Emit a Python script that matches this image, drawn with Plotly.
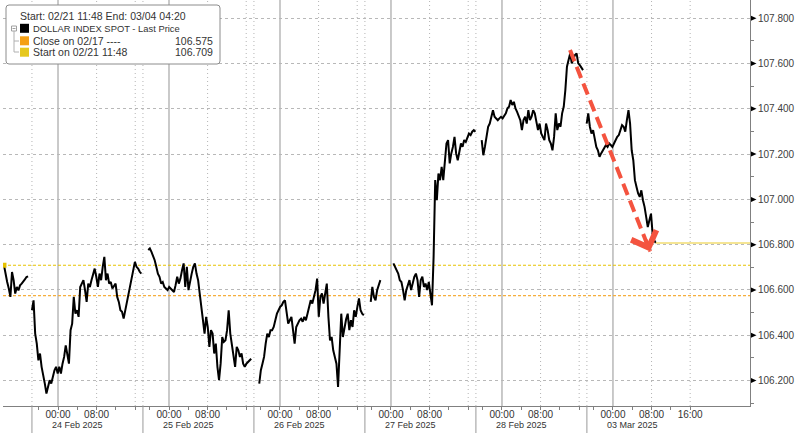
import plotly.graph_objects as go

# x axis = trading hours, 0 = 24 Feb 00:00; each session is 23h (daily break and weekend cut out)
SESSION_HOURS = 23
SESSION_START = -5.4        # session boundary, hours before 00:00
BAR_HOURS = 1 / 3           # 20 minute bars

day_labels = ["24 Feb 2025", "25 Feb 2025", "26 Feb 2025", "27 Feb 2025", "28 Feb 2025", "03 Mar 2025"]

close_0217 = 106.575
start_0221 = 106.709

# DOLLAR INDEX SPOT, 20 min prices per session piece (first bar hour, values)
fri_21 = [106.709, 106.665, 106.635, 106.606, 106.569, 106.679, 106.643, 106.584, 106.613, 106.598,
          106.620, 106.628, 106.635, 106.646, 106.657, 106.660]
mon_24 = [106.510, 106.554, 106.407, 106.363, 106.289, 106.319, 106.260, 106.230, 106.186, 106.142,
          106.171, 106.201, 106.186, 106.215, 106.245, 106.260, 106.230, 106.260, 106.230, 106.274,
          106.304, 106.355, 106.320, 106.274, 106.422, 106.451, 106.569, 106.495, 106.510, 106.481,
          106.613, 106.628, 106.643, 106.599, 106.547, 106.628, 106.613, 106.643, 106.665, 106.694,
          106.658, 106.613, 106.672, 106.643, 106.702, 106.746, 106.643, 106.672, 106.628, 106.635,
          106.606, 106.620, 106.628, 106.569, 106.547, 106.510, 106.503, 106.473, 106.510, 106.540,
          106.584, 106.613, 106.643, 106.687, 106.724, 106.702, 106.694, 106.680, 106.672]
tue_25 = [106.776, 106.783, 106.768, 106.753, 106.731, 106.702, 106.672, 106.658, 106.628, 106.635,
          106.613, 106.606, 106.599, 106.613, 106.606, 106.599, 106.591, 106.621, 106.658, 106.628,
          106.650, 106.687, 106.717, 106.613, 106.702, 106.599, 106.643, 106.672, 106.702, 106.717,
          106.672, 106.643, 106.584, 106.510, 106.466, 106.407, 106.481, 106.436, 106.348, 106.422,
          106.407, 106.319, 106.363, 106.260, 106.201, 106.274, 106.392, 106.370, 106.377, 106.422,
          106.510, 106.407, 106.363, 106.319, 106.260, 106.348, 106.333, 106.304, 106.319, 106.274,
          106.260, 106.274, 106.282, 106.289, 106.296]
wed_26 = [106.186, 106.245, 106.274, 106.304, 106.363, 106.407, 106.392, 106.422, 106.422, 106.436,
          106.466, 106.495, 106.510, 106.525, 106.532, 106.547, 106.554, 106.495, 106.451, 106.466,
          106.481, 106.422, 106.363, 106.436, 106.451, 106.466, 106.473, 106.459, 106.481, 106.466,
          106.495, 106.525, 106.554, 106.540, 106.569, 106.599, 106.650, 106.481, 106.569, 106.584,
          106.540, 106.591, 106.628, 106.481, 106.377, 106.392, 106.333, 106.304, 106.274, 106.171,
          106.333, 106.495, 106.392, 106.436, 106.470, 106.495, 106.422, 106.466, 106.436, 106.510,
          106.481, 106.525, 106.562, 106.510, 106.495, 106.488]
thu_27a = [106.547, 106.613, 106.569, 106.554, 106.599, 106.621, 106.643]
thu_27b = [106.717, 106.702, 106.687, 106.672, 106.643, 106.635, 106.599, 106.554, 106.599, 106.628,
           106.643, 106.599, 106.628, 106.658, 106.672, 106.643, 106.569, 106.643, 106.658, 106.613,
           106.628, 106.599, 106.635, 106.584, 106.532, 106.746, 107.085, 106.996, 107.114, 107.085,
           107.144, 107.085, 107.188, 107.247, 107.262, 107.159, 107.203, 107.232, 107.276, 107.203,
           107.173, 107.203, 107.247, 107.232, 107.262, 107.254, 107.276, 107.291, 107.284, 107.299,
           107.306, 107.299]
fri_28 = [107.262, 107.195, 107.232, 107.276, 107.321, 107.335, 107.365, 107.394, 107.365, 107.358,
          107.350, 107.358, 107.365, 107.358, 107.372, 107.380, 107.402, 107.409, 107.439, 107.417,
          107.431, 107.402, 107.387, 107.365, 107.350, 107.306, 107.350, 107.365, 107.335, 107.394,
          107.350, 107.365, 107.394, 107.380, 107.335, 107.306, 107.335, 107.291, 107.276, 107.262,
          107.335, 107.306, 107.262, 107.247, 107.217, 107.276, 107.380, 107.306, 107.335, 107.321,
          107.380, 107.409, 107.483, 107.586, 107.616, 107.645, 107.601, 107.616, 107.638, 107.645,
          107.601, 107.593, 107.579, 107.571]
mon_03 = [107.335, 107.380, 107.321, 107.291, 107.306, 107.262, 107.232, 107.217, 107.188, 107.203,
          107.217, 107.232, 107.240, 107.232, 107.247, 107.240, 107.232, 107.247, 107.262, 107.276,
          107.284, 107.306, 107.328, 107.321, 107.299, 107.350, 107.394, 107.335, 107.217, 107.173,
          107.085, 107.055, 107.026, 107.011, 107.040, 106.996, 106.967, 106.923, 106.878, 106.908,
          106.937, 106.849, 106.819, 106.807]

segments = [(-11.2, fri_21), (-5.4, mon_24), (18.7, tue_25), (41.7, wed_26),
            (64.8, thu_27a), (69.5, thu_27b), (87.8, fri_28), (109.55, mon_03)]

# red dashed arrow (hour, price)
arrow_start = [106.1, 107.66]
arrow_end = [122.7, 106.77]

X_RANGE = [-11.4, 143.4]
Y_RANGE = [106.087, 107.881]

xs, ys = [], []
for start, prices in segments:
    xs += [start + i * BAR_HOURS for i in range(len(prices))] + [None]
    ys += prices + [None]

last_x = segments[-1][0] + (len(segments[-1][1]) - 1) * BAR_HOURS
last_price = segments[-1][1][-1]

# pixel helpers for the legend box (plot area in px)
PL, PR, PT, PB = 3, 750, 0, 406


def px(x):
    return (x - PL) / (PR - PL)


def py(y):
    return 1 - (y - PT) / (PB - PT)


def yv(v):
    return (v - Y_RANGE[0]) / (Y_RANGE[1] - Y_RANGE[0])


fig = go.Figure()
fig.add_trace(go.Scatter(x=xs, y=ys, mode='lines', line=dict(color='black', width=2),
                         connectgaps=False, hoverinfo='skip'))
fig.add_trace(go.Scatter(x=[last_x, X_RANGE[1]], y=[last_price, last_price], mode='lines',
                         line=dict(color='#F2DC70', width=1.6), hoverinfo='skip'))
fig.add_trace(go.Scatter(x=[segments[0][0]], y=[start_0221], mode='markers',
                         marker=dict(symbol='square', size=5, color='#E6C200'), hoverinfo='skip'))

shapes = []
tickvals, ticktext = [], []
for d, label in enumerate(day_labels):
    midnight = d * SESSION_HOURS
    boundary = midnight + SESSION_START
    shapes.append(dict(type='line', xref='x', yref='paper', x0=midnight, x1=midnight, y0=0, y1=1,
                       line=dict(color='#c4c4c4', width=1.8), layer='below'))
    for h in (8, 16):
        shapes.append(dict(type='line', xref='x', yref='paper', x0=midnight + h, x1=midnight + h, y0=0, y1=1,
                           line=dict(color='#b4b4b4', width=1, dash='1px,3px'), layer='below'))
    shapes.append(dict(type='line', xref='x', yref='paper', x0=boundary, x1=boundary, y0=0, y1=1,
                       line=dict(color='#b4b4b4', width=1, dash='1px,3px'), layer='below'))
    shapes.append(dict(type='line', xref='x', yref='paper', x0=boundary, x1=boundary, y0=-0.07, y1=0,
                       line=dict(color='#999999', width=1)))
    for h in (-4, 0, 4, 8, 12, 16):
        tickvals.append(midnight + h)
        if h in (0, 8) or (h == 16 and d == len(day_labels) - 1):
            ticktext.append(f"{h:02d}:00")
        else:
            ticktext.append("")

# reference levels
shapes.append(dict(type='line', xref='paper', yref='y', x0=0, x1=1, y0=start_0221, y1=start_0221,
                   line=dict(color='#E8C400', width=1.2, dash='3px,2px'), layer='below'))
shapes.append(dict(type='line', xref='paper', yref='y', x0=0, x1=1, y0=close_0217, y1=close_0217,
                   line=dict(color='#F5AE3C', width=1.2, dash='3px,2px'), layer='below'))

# dashed arrow shaft
shapes.append(dict(type='line', xref='x', yref='y', x0=arrow_start[0], y0=arrow_start[1],
                   x1=arrow_end[0], y1=arrow_end[1], line=dict(color='#F4533F', width=4, dash='12px,6px')))

# small pointers on the price axis
ytick_vals = [106.2, 106.4, 106.6, 106.8, 107.0, 107.2, 107.4, 107.6, 107.8]
tri_h = 2.5 / PB
for v in ytick_vals:
    shapes.append(dict(type='path', xref='paper', yref='paper',
                       path=f"M{px(751)},{yv(v) + tri_h} L{px(756.5)},{yv(v)} L{px(751)},{yv(v) - tri_h} Z",
                       fillcolor='black', line=dict(width=0)))

# legend box with rounded corners
bx0, by0, bx1, by1, r = 6, 5, 220, 64, 3
path = (f"M{px(bx0 + r)},{py(by0)} L{px(bx1 - r)},{py(by0)} Q{px(bx1)},{py(by0)} {px(bx1)},{py(by0 + r)} "
        f"L{px(bx1)},{py(by1 - r)} Q{px(bx1)},{py(by1)} {px(bx1 - r)},{py(by1)} "
        f"L{px(bx0 + r)},{py(by1)} Q{px(bx0)},{py(by1)} {px(bx0)},{py(by1 - r)} "
        f"L{px(bx0)},{py(by0 + r)} Q{px(bx0)},{py(by0)} {px(bx0 + r)},{py(by0)} Z")
shapes.append(dict(type='path', xref='paper', yref='paper', path=path, fillcolor='white',
                   line=dict(color='#8c8c8c', width=1)))

# tree icon and connectors
shapes.append(dict(type='rect', xref='paper', yref='paper', x0=px(11.5), x1=px(16.5), y0=py(26), y1=py(31),
                   line=dict(color='#a0a0a0', width=1), fillcolor='white'))
shapes.append(dict(type='line', xref='paper', yref='paper', x0=px(12.5), x1=px(15.5), y0=py(28.5), y1=py(28.5),
                   line=dict(color='#a0a0a0', width=1)))
shapes.append(dict(type='line', xref='paper', yref='paper', x0=px(14), x1=px(14), y0=py(31), y1=py(52),
                   line=dict(color='#b0b0b0', width=1)))
for yy in (41, 52):
    shapes.append(dict(type='line', xref='paper', yref='paper', x0=px(14), x1=px(19), y0=py(yy), y1=py(yy),
                       line=dict(color='#b0b0b0', width=1)))

legend_rows = [
    ("black", "DOLLAR INDEX SPOT - Last Price", None, 28.3, 9.4),
    ("#F5A014", "Close on 02/17 ----", close_0217, 40.8, 10.5),
    ("#E6C81E", "Start on 02/21 11:48", start_0221, 52.2, 10.5),
]
annotations = [dict(xref='paper', yref='paper', x=px(18), y=py(15.7), xanchor='left', yanchor='middle',
                    text="Start: 02/21 11:48 End: 03/04 04:20", showarrow=False,
                    font=dict(size=10.5, color='#333'))]
for color, name, value, yy, fs in legend_rows:
    shapes.append(dict(type='rect', xref='paper', yref='paper', x0=px(20), x1=px(29), y0=py(yy - 4.5),
                       y1=py(yy + 4.5), line=dict(width=0), fillcolor=color))
    annotations.append(dict(xref='paper', yref='paper', x=px(30.5), y=py(yy), xanchor='left', yanchor='middle',
                            text=name, showarrow=False, font=dict(size=fs, color='#333')))
    if value is not None:
        annotations.append(dict(xref='paper', yref='paper', x=px(215), y=py(yy), xanchor='right',
                                yanchor='middle', text=f"{value:.3f}", showarrow=False,
                                font=dict(size=10.5, color='#333')))

for d, label in enumerate(day_labels):
    annotations.append(dict(xref='x', yref='paper', x=d * SESSION_HOURS + 4, y=-(425 - PB) / PB,
                            xanchor='center', yanchor='middle', text=label, showarrow=False,
                            font=dict(size=9, color='#333')))

# arrow head
annotations.append(dict(xref='x', yref='y', x=arrow_end[0], y=arrow_end[1], ax=-5, ay=-13, text='',
                        showarrow=True, arrowhead=4, arrowsize=1.3, arrowwidth=4, arrowcolor='#F4533F',
                        standoff=0))

yminor_vals = [106.1, 106.3, 106.5, 106.7, 106.9, 107.1, 107.3, 107.5, 107.7]

fig.update_layout(
    template='none',
    width=800, height=433,
    margin=dict(l=PL, r=800 - PR, t=PT, b=433 - PB, pad=0),
    plot_bgcolor='white', paper_bgcolor='white', showlegend=False,
    font=dict(family='Liberation Sans, Arial, sans-serif', size=10, color='#333'),
    shapes=shapes, annotations=annotations,
    xaxis=dict(range=X_RANGE, tickmode='array', tickvals=tickvals, ticktext=ticktext, automargin=False,
               showgrid=False, zeroline=False, showline=True, linecolor='#808080', linewidth=1,
               ticks='outside', ticklen=3, tickcolor='#808080', ticklabelstandoff=-4,
               tickfont=dict(size=10, color='#333')),
    yaxis=dict(side='right', range=Y_RANGE, tickmode='array', tickvals=ytick_vals,
               ticktext=[f"{v:.3f}" for v in ytick_vals], automargin=False,
               showgrid=True, gridcolor='#b8b8b8', griddash='dot', gridwidth=1, zeroline=False,
               showline=True, linecolor='#808080', linewidth=1, ticks='', ticklabelstandoff=5,
               tickfont=dict(size=10, color='#404040'),
               minor=dict(tickmode='array', tickvals=yminor_vals, ticks='outside', ticklen=3,
                          tickcolor='#808080', showgrid=False)),
)

# page body has a default 8px margin; drop it so the figure sits at the window corner
fig.write_html("out.html", config={'displayModeBar': False},
               post_script="document.body.style.margin='0';")
